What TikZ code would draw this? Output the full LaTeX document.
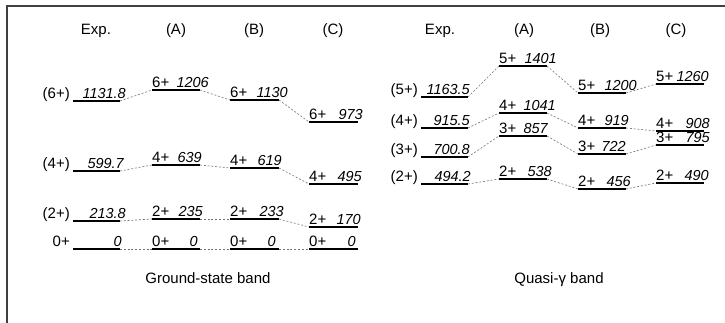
\documentclass[tikz,border=0pt]{standalone}
\usepackage{fontspec}
\setmainfont{Liberation Sans}
\begin{document}
\begin{tikzpicture}[x=1pt,y=-1pt,
  lbl/.style={inner sep=0pt,font=\fontsize{15}{17}\selectfont},
  en/.style={inner sep=0pt,font=\fontsize{14.5}{17}\selectfont\itshape},
  levelline/.style={line width=1.3pt,black},
  conn/.style={black!55,line width=0.6pt,dash pattern=on 2pt off 1.8pt},
  frameline/.style={line width=1.8pt,black!75}]
\useasboundingbox (0,0) rectangle (725,323);
\draw[frameline] (7,323) -- (7,6) -- (725,6);
% model level: name, x1, x2, y, spin, energy, energy right edge
\newcommand\mlev[7]{%
  \coordinate (#1-l) at (#2,#4);
  \coordinate (#1-r) at (#3,#4);
  \draw[levelline] (#1-l) -- (#1-r);
  \node[lbl,anchor=base west] (#1-s) at (#2,#4-2.5) {#5};
  \node[en,anchor=base east] (#1-e) at (#7,#4-2.5) {#6};}
% experimental level: spin label to the left of the line
\newcommand\elev[7]{%
  \coordinate (#1-l) at (#2,#4);
  \coordinate (#1-r) at (#3,#4);
  \draw[levelline] (#1-l) -- (#1-r);
  \node[lbl,anchor=base east] (#1-s) at (#2-3,#4-2.5) {#5};
  \node[en,anchor=base east] (#1-e) at (#7,#4-2.5) {#6};}
% headers
\node[lbl,anchor=base] (h1) at (96,35) {Exp.};
\node[lbl,anchor=base] (h2) at (176,35) {(A)};
\node[lbl,anchor=base] (h3) at (254,35) {(B)};
\node[lbl,anchor=base] (h4) at (333,35) {(C)};
\node[lbl,anchor=base] (h5) at (440,35) {Exp.};
\node[lbl,anchor=base] (h6) at (524,35) {(A)};
\node[lbl,anchor=base] (h7) at (600,35) {(B)};
\node[lbl,anchor=base] (h8) at (676,35) {(C)};
% ground-state band
\elev{ge6}{73}{120}{101}{(6+)}{1131.8}{126}
\elev{ge4}{73}{120}{171}{(4+)}{599.7}{124}
\elev{ge2}{73}{120}{221}{(2+)}{213.8}{126}
\elev{ge0}{73}{120}{249}{0+}{0}{122}
\mlev{ga6}{152}{200}{90}{6+}{1206}{209}
\mlev{ga4}{152}{200}{165}{4+}{639}{202}
\mlev{ga2}{152}{200}{219}{2+}{235}{203}
\mlev{ga0}{152}{200}{249}{0+}{0}{198}
\mlev{gb6}{230}{279}{100}{6+}{1130}{288}
\mlev{gb4}{230}{279}{168}{4+}{619}{282}
\mlev{gb2}{230}{279}{219}{2+}{233}{284}
\mlev{gb0}{230}{279}{249}{0+}{0}{276}
\mlev{gc6}{309}{358}{122}{6+}{973}{363}
\mlev{gc4}{309}{358}{184}{4+}{495}{362}
\mlev{gc2}{309}{358}{227}{2+}{170}{361}
\mlev{gc0}{309}{358}{249}{0+}{0}{356}
\foreach \j in {6,4,2,0}{
  \draw[conn] (ge\j-r) -- (ga\j-l);
  \draw[conn] (ga\j-r) -- (gb\j-l);
  \draw[conn] (gb\j-r) -- (gc\j-l);}
% quasi-gamma band
\elev{qe5}{421}{468}{97}{(5+)}{1163.5}{470}
\elev{qe4}{421}{468}{128}{(4+)}{915.5}{470}
\elev{qe3}{421}{468}{157}{(3+)}{700.8}{470}
\elev{qe2}{421}{468}{184}{(2+)}{494.2}{471}
\mlev{qa5}{499}{547}{66}{5+}{1401}{557}
\mlev{qa4}{499}{547}{113}{4+}{1041}{556}
\mlev{qa3}{499}{547}{136}{3+}{857}{548}
\mlev{qa2}{499}{547}{179}{2+}{538}{552}
\mlev{qb5}{578}{626}{93}{5+}{1200}{637}
\mlev{qb4}{578}{626}{128}{4+}{919}{629}
\mlev{qb3}{578}{626}{154}{3+}{722}{626}
\mlev{qb2}{578}{626}{189}{2+}{456}{631}
\mlev{qc5}{656}{704}{84}{5+}{1260}{709}
\mlev{qc4}{656}{704}{131}{4+}{908}{710}
\mlev{qc3}{656}{704}{145}{3+}{795}{710}
\mlev{qc2}{656}{704}{183}{2+}{490}{709}
\foreach \j in {5,4,3,2}{
  \draw[conn] (qe\j-r) -- (qa\j-l);
  \draw[conn] (qa\j-r) -- (qb\j-l);
  \draw[conn] (qb\j-r) -- (qc\j-l);}
% band labels
\node[lbl,anchor=base] (gsb) at (208,283) {Ground-state band};
\node[lbl,anchor=base] (qgb) at (559,283) {Quasi-γ band};
\end{tikzpicture}
\end{document}
